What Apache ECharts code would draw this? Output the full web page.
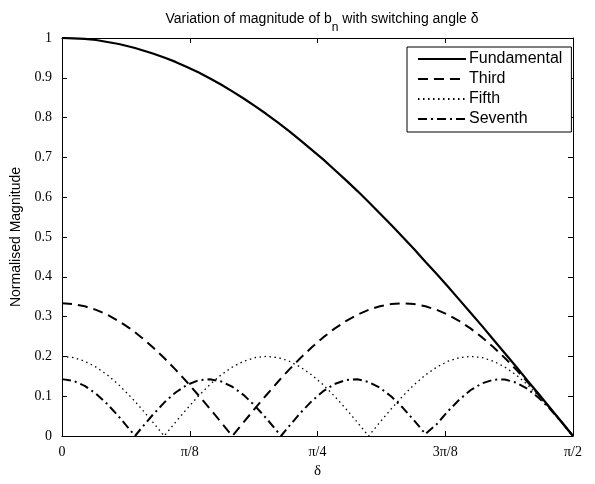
<!DOCTYPE html>
<html>
<head>
<meta charset="utf-8">
<script src="https://cdn.jsdelivr.net/npm/echarts@6/dist/echarts.min.js"></script>
<style>html,body{margin:0;padding:0;background:#fff}#c{width:595px;height:484px}</style>
</head>
<body>
<div id="c"></div>
<script>
// delta in degrees (0 .. 90 = pi/2)
var deltaDeg = [0,2,4,6,8,10,12,12.857,14,16,18,20,22,24,26,28,30,32,34,36,38,38.571,40,42,44,46,48,50,52,54,56,58,60,62,64,64.286,66,68,70,72,74,76,78,80,82,84,86,88,90];
var fundamental = [1.000,0.999,0.998,0.995,0.990,0.985,0.978,0.975,0.970,0.961,0.951,0.940,0.927,0.914,0.899,0.883,0.866,0.848,0.829,0.809,0.788,0.782,0.766,0.743,0.719,0.695,0.669,0.643,0.616,0.588,0.559,0.530,0.500,0.470,0.438,0.434,0.407,0.375,0.342,0.309,0.276,0.242,0.208,0.174,0.139,0.105,0.070,0.035,0.000];
var third = [0.3333,0.3315,0.3260,0.3170,0.3045,0.2887,0.2697,0.2606,0.2477,0.2230,0.1959,0.1667,0.1356,0.1030,0.0693,0.0348,0,0.0348,0.0693,0.1030,0.1356,0.1446,0.1667,0.1959,0.2230,0.2477,0.2697,0.2887,0.3045,0.3170,0.3260,0.3315,0.3333,0.3315,0.3260,0.3250,0.3170,0.3045,0.2887,0.2697,0.2477,0.2230,0.1959,0.1667,0.1356,0.1030,0.0693,0.0348,0];
var fifth = [0.2000,0.1970,0.1879,0.1732,0.1532,0.1286,0.1000,0.0868,0.0684,0.0347,0,0.0347,0.0684,0.1000,0.1286,0.1532,0.1732,0.1879,0.1970,0.2000,0.1970,0.1950,0.1879,0.1732,0.1532,0.1286,0.1000,0.0684,0.0347,0,0.0347,0.0684,0.1000,0.1286,0.1532,0.1563,0.1732,0.1879,0.1970,0.2000,0.1970,0.1879,0.1732,0.1532,0.1286,0.1000,0.0684,0.0347,0];
var seventh = [0.1429,0.1386,0.1261,0.1062,0.0799,0.0489,0.0149,0,0.0199,0.0535,0.0840,0.1094,0.1284,0.1397,0.1428,0.1373,0.1237,0.1028,0.0757,0.0441,0.0100,0,0.0248,0.0581,0.0880,0.1126,0.1305,0.1407,0.1425,0.1359,0.1211,0.0992,0.0714,0.0394,0.0050,0,0.0297,0.0626,0.0918,0.1156,0.1325,0.1415,0.1421,0.1342,0.1184,0.0956,0.0671,0.0346,0];
var seriesNames = ['Fundamental','Third','Fifth','Seventh'];
var xTickLabels = ['0','\u03c0/8','\u03c0/4','3\u03c0/8','\u03c0/2'];

function pairs(ys){ return deltaDeg.map(function(x,i){ return [x, ys[i]]; }); }

var serif = '"Liberation Serif","Times New Roman",serif';
var sans = '"Liberation Sans",Arial,Helvetica,sans-serif';
var chart = echarts.init(document.getElementById('c'), null, {renderer:'canvas'});

var baseX = {
  type:'value', min:0, max:90, interval:22.5,
  axisLine:{show:true, onZero:false, lineStyle:{color:'#000', width:1}},
  axisTick:{show:true, inside:true, length:5, lineStyle:{color:'#000'}},
  splitLine:{show:false}
};
var baseY = {
  type:'value', min:0, max:1, interval:0.1,
  axisLine:{show:true, onZero:false, lineStyle:{color:'#000', width:1}},
  axisTick:{show:true, inside:true, length:5, lineStyle:{color:'#000'}},
  splitLine:{show:false}
};

var option = {
  backgroundColor:'#fff',
  animation:false,
  title:{
    text:'{a|Variation of magnitude of b}{s|n}{a| with switching angle \u03b4}',
    left:317, top:7, textAlign:'center',
    textStyle:{
      fontWeight:'normal',
      rich:{
        a:{fontFamily:sans, fontSize:14, fontWeight:'normal', color:'#000', lineHeight:18, verticalAlign:'top'},
        s:{fontFamily:sans, fontSize:12, fontWeight:'normal', color:'#000', lineHeight:18, padding:[10,0,0,0], verticalAlign:'top'}
      }
    }
  },
  grid:{left:62, right:22, top:38, bottom:42},
  legend:{
    data:seriesNames,
    orient:'vertical',
    left:407, top:47,
    padding:[4,9,5,10],
    itemGap:4,
    itemWidth:48, itemHeight:14,
    backgroundColor:'#fff',
    borderColor:'#000', borderWidth:1,
    itemStyle:{color:'rgba(0,0,0,0)', borderWidth:0, borderColor:'rgba(0,0,0,0)'},
    textStyle:{fontFamily:sans, fontSize:16, color:'#000', padding:[0,0,0,-2]}
  },
  xAxis:[
    Object.assign({}, baseX, {
      position:'bottom',
      name:'\u03b4', nameLocation:'middle', nameGap:28,
      nameTextStyle:{fontFamily:serif, fontSize:15, color:'#000'},
      axisLabel:{show:true, margin:9, fontFamily:serif, fontSize:14, color:'#000',
        formatter:function(v){ var i=Math.round(v/22.5); return xTickLabels[i]; }}
    }),
    Object.assign({}, baseX, {position:'top', axisLabel:{show:false}})
  ],
  yAxis:[
    Object.assign({}, baseY, {
      position:'left',
      name:'Normalised Magnitude', nameLocation:'middle', nameGap:29,
      nameTextStyle:{fontFamily:sans, fontSize:14, color:'#000'},
      axisLabel:{show:true, margin:10, fontFamily:serif, fontSize:14, color:'#000',
        formatter:function(v){ var r=Math.round(v*10)/10; return (r===0||r===1)?String(r):r.toFixed(1); }}
    }),
    Object.assign({}, baseY, {position:'right', axisLabel:{show:false}})
  ],
  series:[
    {name:seriesNames[0], type:'line', data:pairs(fundamental), showSymbol:false, symbol:'none', smooth:false,
      lineStyle:{color:'#000', width:2.2, type:'solid'}, itemStyle:{color:'#000'}},
    {name:seriesNames[1], type:'line', data:pairs(third), showSymbol:false, symbol:'none',
      lineStyle:{color:'#000', width:2, type:[10,6]}, itemStyle:{color:'#000'}},
    {name:seriesNames[2], type:'line', data:pairs(fifth), showSymbol:false, symbol:'none',
      lineStyle:{color:'#000', width:1.3, type:[1.5,3.5]}, itemStyle:{color:'#000'}},
    {name:seriesNames[3], type:'line', data:pairs(seventh), showSymbol:false, symbol:'none',
      lineStyle:{color:'#000', width:2, type:[9,4,2,4]}, itemStyle:{color:'#000'}}
  ]
};
chart.setOption(option);
</script>
</body>
</html>
